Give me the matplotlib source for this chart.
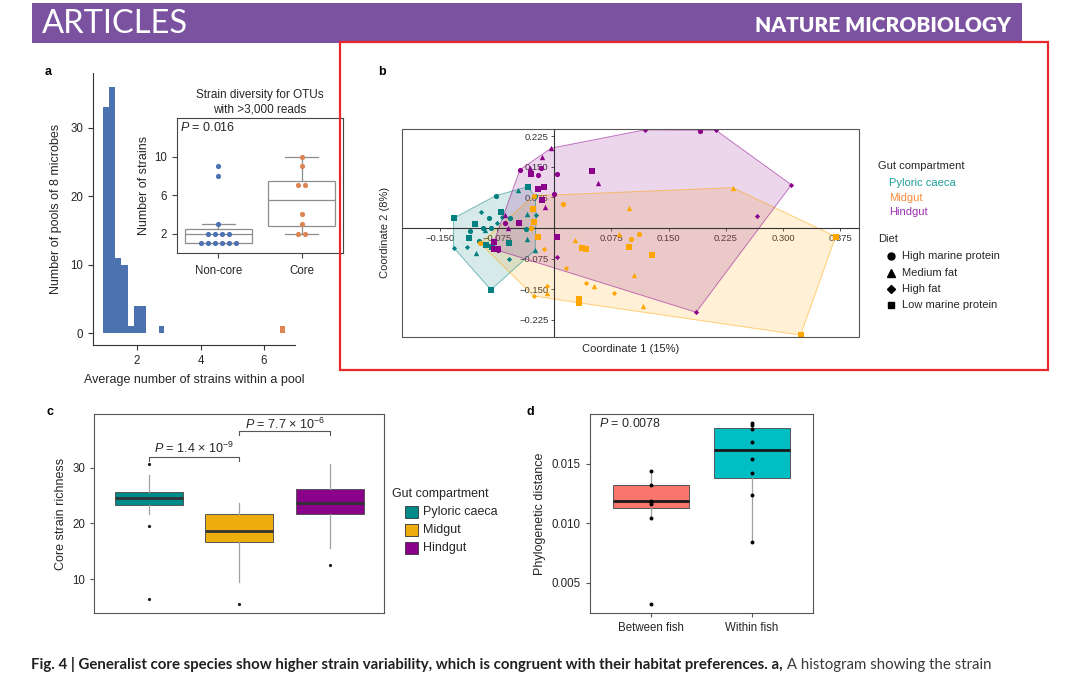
import matplotlib
matplotlib.use('Agg')
import matplotlib.pyplot as plt
from matplotlib.patches import Rectangle, Polygon
from matplotlib.lines import Line2D

plt.rcParams['font.family'] = ['Liberation Sans', 'DejaVu Sans']
plt.rcParams['mathtext.fontset'] = 'custom'
plt.rcParams['mathtext.rm'] = 'Liberation Sans'
plt.rcParams['mathtext.it'] = 'Liberation Sans:italic'
plt.rcParams['mathtext.bf'] = 'Liberation Sans:bold'

####################################################
# Data
####################################################

# a: histogram of average strains per pool
hist_left = [0.920, 1.116, 1.312, 1.508, 1.704, 1.900, 2.096]
hist_count = [33, 36, 11, 10, 1, 4, 4]
bin_width = 0.196
marker_left = [2.684, 6.50]      # the two small coloured squares
marker_count = [1, 1]

# a inset: strain diversity for OTUs with >3,000 reads
otu_groups = ['Non-core', 'Core']
noncore_strains = [1, 1, 1, 1, 1, 1, 2, 2, 2, 2, 3, 8, 9]
core_strains = [2, 2, 3, 4, 7, 7, 9, 10]
otu_q1 = [1.0, 2.75]
otu_med = [2.0, 5.5]
otu_q3 = [2.5, 7.5]
otu_lo = [1.0, 2.0]
otu_hi = [3.0, 10.0]

# b: PCoA, one set of arrays per gut compartment
# diet codes: H = high marine protein, M = medium fat, F = high fat, L = low marine protein
pc_x = [-0.132, -0.035, -0.070, -0.104, -0.112, -0.089, -0.082, -0.059, -0.083,
        -0.077, -0.085, -0.058, -0.111, -0.093, -0.083, -0.037, -0.099, -0.029, -0.025,
        -0.048, -0.036, -0.102, -0.036, -0.025, -0.091,
        -0.096, -0.068, -0.075, -0.132, -0.115, -0.059, -0.024]
pc_y = [0.024, 0.101, 0.040, 0.009, -0.025, -0.042, -0.047, -0.036, -0.152,
        0.079, 0.024, 0.024, -0.007, -0.001, -0.001, -0.003, -0.031, 0.046, 0.078,
        0.092, 0.034, -0.061, -0.027, -0.054, -0.005,
        0.040, 0.026, 0.012, -0.048, -0.046, -0.076, 0.032]
pc_diet = list('LLLLLLLLL' 'HHHHHHHHHH' 'MMMMMM' 'FFFFFFF')

mg_x = [-0.027, -0.028, -0.021, 0.098, 0.128, 0.037, 0.041, 0.033, 0.033, 0.369, 0.323,
        0.012, -0.030, -0.047, 0.101, 0.111, -0.097, -0.027,
        0.234, 0.098, 0.027, 0.085, 0.105, 0.052, 0.117, -0.010,
        -0.013, 0.015, 0.041, 0.078, -0.009, -0.027]
mg_y = [0.015, 0.046, -0.023, -0.046, -0.066, -0.048, -0.052, -0.175, -0.184, -0.021, -0.263,
        0.058, -0.001, 0.013, -0.027, -0.015, -0.038, 0.079,
        0.099, 0.049, -0.029, -0.015, -0.115, -0.142, -0.192, -0.159,
        -0.052, -0.099, -0.134, -0.159, -0.143, -0.167]
mg_diet = list('LLLLLLLLLLL' 'HHHHHHH' 'MMMMMMMM' 'FFFFFF')

hg_x = [0.191, -0.045, -0.021, -0.018, 0.003, -0.065, -0.078, -0.074, 0.000,
        -0.004, -0.016, -0.032, 0.057, -0.012, -0.064, -0.061,
        -0.030, 0.049, -0.021, -0.013, -0.016, -0.046, 0.004, -0.079, -0.079, -0.074,
        0.119, 0.212, 0.311, 0.266, 0.186, 0.003]
hg_y = [0.237, 0.143, 0.129, 0.148, 0.132, 0.012, -0.050, -0.054, 0.084,
        0.196, 0.174, 0.147, 0.110, 0.051, 0.032, 0.001,
        0.133, 0.140, 0.096, 0.100, 0.069, 0.012, -0.022, -0.034, -0.052, -0.052,
        0.241, 0.240, 0.106, 0.029, -0.207, -0.071]
hg_diet = list('HHHHHHHHH' 'MMMMMMM' 'LLLLLLLLLL' 'FFFFFF')

pcoa_xticks = [-0.150, -0.075, 0.075, 0.150, 0.225, 0.300, 0.375]
pcoa_yticks = [0.225, 0.150, 0.075, -0.075, -0.150, -0.225]

# c: core strain richness per compartment
compartments = ['Pyloric caeca', 'Midgut', 'Hindgut']
rich_q1 = [23.3, 16.6, 21.6]
rich_med = [24.6, 18.6, 23.6]
rich_q3 = [25.6, 21.6, 26.1]
rich_lo = [21.6, 9.4, 15.5]
rich_hi = [28.6, 23.7, 30.7]
rich_out = [[30.6, 19.5, 6.5], [5.5], [12.5]]

# d: phylogenetic distance
fish_groups = ['Between fish', 'Within fish']
between_dist = [0.01436, 0.01320, 0.01190, 0.01178, 0.01162, 0.01042, 0.00322]
within_dist = [0.01843, 0.01823, 0.01789, 0.01680, 0.01543, 0.01420, 0.01240, 0.00841]
dist_q1 = [0.01126, 0.01379]
dist_med = [0.01184, 0.01612]
dist_q3 = [0.01318, 0.01796]
dist_lo = [0.01042, 0.00841]
dist_hi = [0.01436, 0.01843]


####################################################
# Helpers
####################################################

W, H = 1080, 674
fig = plt.figure(figsize=(W / 100, H / 100), dpi=100)


def px_axes(x0, y0, x1, y1, **kw):
    # axes placed by pixel box (top-left origin)
    return fig.add_axes([x0 / W, 1 - y1 / H, (x1 - x0) / W, (y1 - y0) / H], **kw)


def convex_hull(points):
    pts = sorted(set(points))
    def cross(o, a, b):
        return (a[0] - o[0]) * (b[1] - o[1]) - (a[1] - o[1]) * (b[0] - o[0])
    lower, upper = [], []
    for p in pts:
        while len(lower) >= 2 and cross(lower[-2], lower[-1], p) <= 0:
            lower.pop()
        lower.append(p)
    for p in reversed(pts):
        while len(upper) >= 2 and cross(upper[-2], upper[-1], p) <= 0:
            upper.pop()
        upper.append(p)
    return lower[:-1] + upper[:-1]


def swarm_offsets(values, step):
    # spread equal values side by side, like a small beeswarm
    offs = []
    seen = {}
    counts = {v: values.count(v) for v in values}
    for v in values:
        i = seen.get(v, 0)
        seen[v] = i + 1
        offs.append((i - (counts[v] - 1) / 2) * step)
    return offs


TXT = '#262626'
TICK = 8.3
LAB = 9

####################################################
# a: histogram
####################################################

ax = px_axes(93, 73, 295, 345)
ax.bar(hist_left, hist_count, width=bin_width, align='edge', color='#4C72B0', linewidth=0)
ax.bar(marker_left, marker_count, width=0.18, align='edge',
       color=['#4C72B0', '#DD8452'], linewidth=0)
ax.set_xlim(0.61, 6.98)
ax.set_ylim(-1.75, 38)
ax.set_xticks([2, 4, 6])
ax.set_yticks([0, 10, 20, 30])
for s in ['top', 'right']:
    ax.spines[s].set_visible(False)
for s in ['left', 'bottom']:
    ax.spines[s].set_color('#333333')
    ax.spines[s].set_linewidth(0.8)
ax.tick_params(labelsize=TICK, colors='#333333', length=3.5, width=0.8, labelcolor=TXT)
ax.set_xlabel('Average number of strains within a pool', fontsize=LAB, color=TXT, labelpad=5)
ax.set_ylabel('Number of pools of 8 microbes', fontsize=LAB, color=TXT, labelpad=6)

# inset
axi = px_axes(176.7, 118.3, 343.3, 252.7)
stats = []
for i in range(2):
    stats.append(dict(med=otu_med[i], q1=otu_q1[i], q3=otu_q3[i],
                      whislo=otu_lo[i], whishi=otu_hi[i], fliers=[]))
axi.bxp(stats, positions=[0, 1], widths=0.8, patch_artist=True,
        boxprops=dict(facecolor='white', edgecolor='#8c8c8c', linewidth=0.9),
        medianprops=dict(color='#8c8c8c', linewidth=0.9),
        whiskerprops=dict(color='#8c8c8c', linewidth=0.9),
        capprops=dict(color='#8c8c8c', linewidth=0.9), capwidths=0.4)
for i, (vals, col) in enumerate([(noncore_strains, '#4C72B0'), (core_strains, '#DD8452')]):
    offs = swarm_offsets(vals, 0.085)
    axi.scatter([i + o for o in offs], vals, s=14, color=col, linewidth=0, zorder=3)
axi.set_xlim(-0.5, 1.5)
axi.set_ylim(0, 14)
axi.set_yticks([2, 6, 10])
axi.set_xticks([0, 1])
axi.set_xticklabels(otu_groups)
for s in axi.spines.values():
    s.set_color('#444444')
    s.set_linewidth(0.8)
axi.tick_params(labelsize=TICK, colors='#444444', length=3.5, width=0.8, labelcolor=TXT)
axi.tick_params(axis='x', pad=5)
axi.set_ylabel('Number of strains', fontsize=LAB, color=TXT, labelpad=3)
axi.set_title('Strain diversity for OTUs\nwith >3,000 reads', fontsize=8.5, color=TXT,
              pad=4, linespacing=1.25)
axi.text(0.02, 0.93, '$P$ = 0.016', transform=axi.transAxes, fontsize=LAB, color=TXT,
         ha='left', va='center')

####################################################
# b: PCoA
####################################################

axb = px_axes(401.7, 129, 859.3, 336.7)
groups = [(pc_x, pc_y, pc_diet, '#00807F'),
          (mg_x, mg_y, mg_diet, '#FFA500'),
          (hg_x, hg_y, hg_diet, '#8B008B')]
for xs, ys, diets, col in groups:
    hull = convex_hull(list(zip(xs, ys)))
    axb.add_patch(Polygon(hull, closed=True, facecolor=col, alpha=0.16, edgecolor='none', zorder=1))
    axb.add_patch(Polygon(hull, closed=True, fill=False, edgecolor=col, alpha=0.5,
                          linewidth=0.7, zorder=1.1))

diet_marker = {'H': ('o', 14), 'M': ('^', 15), 'F': ('D', 7), 'L': ('s', 24)}
for xs, ys, diets, col in groups:
    for code, (mk, sz) in diet_marker.items():
        sel = [i for i, d in enumerate(diets) if d == code]
        axb.scatter([xs[i] for i in sel], [ys[i] for i in sel], marker=mk, s=sz,
                    color=col, linewidth=0, zorder=3)

axb.set_xlim(-0.2, 0.4)
axb.set_ylim(-0.267, 0.243)
axb.set_axisbelow(True)
axb.spines['left'].set_position(('data', 0))
axb.spines['bottom'].set_position(('data', 0))
for s in ['left', 'bottom']:
    axb.spines[s].set_color('#333333')
    axb.spines[s].set_linewidth(0.8)
for s in ['top', 'right']:
    axb.spines[s].set_visible(False)
axb.add_patch(Rectangle((0, 0), 1, 1, transform=axb.transAxes, fill=False,
                        edgecolor='#555555', linewidth=0.8, clip_on=False, zorder=4))
axb.set_xticks(pcoa_xticks)
axb.set_xticklabels(['%.3f' % v if v >= 0 else '\u2212%.3f' % -v for v in pcoa_xticks])
axb.set_yticks(pcoa_yticks)
axb.set_yticklabels(['%.3f' % v if v >= 0 else '\u2212%.3f' % -v for v in pcoa_yticks])
axb.tick_params(labelsize=6.8, colors='#333333', length=2.5, width=0.6, pad=1.5,
                labelcolor='#333333')
axb.text(0.5, -0.035, 'Coordinate 1 (15%)', transform=axb.transAxes, ha='center',
         va='top', fontsize=8, color=TXT)
axb.text(-0.037, 0.5, 'Coordinate 2 (8%)', transform=axb.transAxes, ha='center',
         va='center', rotation=90, fontsize=8, color=TXT)

####################################################
# c: core strain richness
####################################################

axc = px_axes(94.3, 414, 384.3, 613.3)
c_cols = ['#008B8B', '#EEAD0E', '#8B008B']
stats = []
for i in range(3):
    stats.append(dict(med=rich_med[i], q1=rich_q1[i], q3=rich_q3[i],
                      whislo=rich_lo[i], whishi=rich_hi[i], fliers=rich_out[i]))
bp = axc.bxp(stats, positions=[1, 2, 3], widths=0.75, patch_artist=True, showcaps=False,
             boxprops=dict(edgecolor='#555555', linewidth=0.7),
             medianprops=dict(color='#333333', linewidth=2),
             whiskerprops=dict(color='#a0a0a0', linewidth=0.9),
             flierprops=dict(marker='o', markersize=2.3, markerfacecolor='#1a1a1a',
                             markeredgecolor='none'))
for patch, col in zip(bp['boxes'], c_cols):
    patch.set_facecolor(col)
axc.set_xlim(0.4, 3.6)
axc.set_ylim(3.85, 39.6)
axc.set_xticks([])
axc.set_yticks([10, 20, 30])
for s in axc.spines.values():
    s.set_color('#555555')
    s.set_linewidth(0.8)
axc.tick_params(labelsize=TICK, colors='#555555', length=3, width=0.8, labelcolor=TXT)
axc.set_ylabel('Core strain richness', fontsize=LAB, color=TXT, labelpad=4)

# significance brackets
axc.plot([1, 1, 2, 2], [31.2, 31.9, 31.9, 31.2], color='#555555', linewidth=0.8)
axc.plot([2, 2, 3, 3], [35.8, 36.5, 36.5, 35.8], color='#555555', linewidth=0.8)
axc.text(1.5, 33.5, '$P$ = 1.4 \u00d7 10$^{\u22129}$', ha='center', va='center',
         fontsize=LAB, color=TXT)
axc.text(2.5, 37.8, '$P$ = 7.7 \u00d7 10$^{\u22126}$', ha='center', va='center',
         fontsize=LAB, color=TXT)

####################################################
# d: phylogenetic distance
####################################################

axd = px_axes(590, 414, 812.7, 613.3)
stats = []
for i in range(2):
    stats.append(dict(med=dist_med[i], q1=dist_q1[i], q3=dist_q3[i],
                      whislo=dist_lo[i], whishi=dist_hi[i], fliers=[]))
bp = axd.bxp(stats, positions=[1, 2], widths=0.75, patch_artist=True, showcaps=False,
             boxprops=dict(edgecolor='#555555', linewidth=0.7),
             medianprops=dict(color='#1a1a1a', linewidth=2),
             whiskerprops=dict(color='#a0a0a0', linewidth=0.9))
for patch, col in zip(bp['boxes'], ['#F8766D', '#00BFC4']):
    patch.set_facecolor(col)
axd.scatter([1] * len(between_dist), between_dist, s=8, color='black', linewidth=0, zorder=3)
axd.scatter([2] * len(within_dist), within_dist, s=8, color='black', linewidth=0, zorder=3)
axd.set_xlim(0.4, 2.6)
axd.set_ylim(0.00246, 0.01916)
axd.set_xticks([1, 2])
axd.set_xticklabels(fish_groups)
axd.set_yticks([0.005, 0.010, 0.015])
axd.set_yticklabels(['0.005', '0.010', '0.015'])
for s in axd.spines.values():
    s.set_color('#555555')
    s.set_linewidth(0.8)
axd.tick_params(labelsize=TICK, colors='#555555', length=3, width=0.8, labelcolor=TXT)
axd.set_ylabel('Phylogenetic distance', fontsize=LAB, color=TXT, labelpad=4)
axd.text(0.04, 0.95, '$P$ = 0.0078', transform=axd.transAxes, ha='left', va='center',
         fontsize=LAB, color=TXT)

####################################################
# Page furniture: header, frame, panel letters, legends, caption
####################################################

ov = fig.add_axes([0, 0, 1, 1], zorder=10)
ov.set_xlim(0, W)
ov.set_ylim(H, 0)
ov.axis('off')

ov.add_patch(Rectangle((32, 3), 990, 40, facecolor='#7B52A0', edgecolor='none'))
ov.text(42, 24, 'ARTICLES', family='Lato', fontsize=23.5, color='white', ha='left', va='center')
ov.text(1011, 25, 'NATURE MICROBIOLOGY', family='Lato', fontweight='heavy', fontsize=15,
        color='white', ha='right', va='center')
ov.add_patch(Rectangle((340, 42), 708, 328, fill=False, edgecolor='#E8262C', linewidth=1.6))

for lab, x, y in [('a', 48, 72), ('b', 382, 72), ('c', 50, 412), ('d', 530, 412)]:
    ov.text(x, y, lab, fontsize=9, fontweight='bold', color='black', ha='center', va='center')

# legend b
ov.text(878, 166, 'Gut compartment', fontsize=8, color=TXT, va='center')
for name, col, y in [('Pyloric caeca', '#1E9E9A', 183), ('Midgut', '#F98B3C', 198),
                     ('Hindgut', '#9C33AE', 212)]:
    ov.text(889, y, name, fontsize=8, color=col, va='center')
ov.text(878, 239, 'Diet', fontsize=8, color=TXT, va='center')
for name, mk, ms, y in [('High marine protein', 'o', 5, 256), ('Medium fat', '^', 5.5, 273),
                        ('High fat', 'D', 4.5, 289), ('Low marine protein', 's', 5, 305)]:
    ov.add_line(Line2D([891], [y], marker=mk, markersize=ms, color='black', linestyle='none'))
    ov.text(902, y, name, fontsize=8, color=TXT, va='center')

# legend c
ov.text(392.5, 494, 'Gut compartment', fontsize=LAB, color=TXT, va='center')
for name, col, y in zip(compartments, c_cols, [512.3, 530, 547.7]):
    ov.add_patch(Rectangle((405, y - 6), 13, 12, facecolor=col, edgecolor='#333333',
                           linewidth=0.6))
    ov.text(423, y, name, fontsize=LAB, color=TXT, va='center')

# caption
cap = ov.text(31, 665, 'Fig. 4 | Generalist core species show higher strain variability, '
              'which is congruent with their habitat preferences. a,',
              family='Lato', fontweight='bold', fontsize=10.8, color='#231f20', va='center')
ov.annotate(' A histogram showing the strain', xy=(1, 0), xycoords=cap, ha='left',
            va='bottom', family='Lato', fontsize=10.8, color='#3a3a3a')

fig.savefig('out.png', dpi=100)
